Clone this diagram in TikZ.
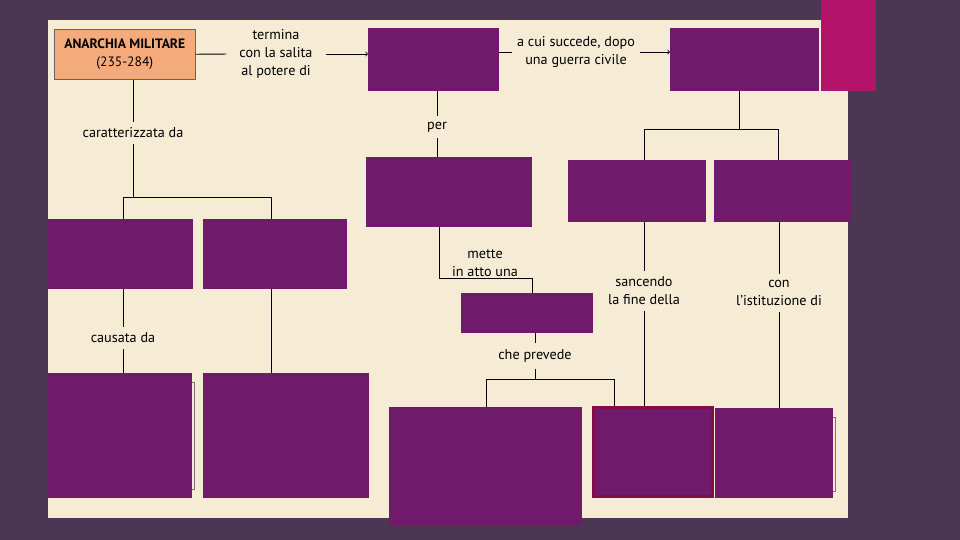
\documentclass[tikz,border=0pt]{standalone}
\usepackage{fontspec}
\setmainfont{PT Sans}
\usepackage{xcolor}
\usetikzlibrary{arrows,positioning}

\definecolor{bgdark}{HTML}{4B3653}
\definecolor{cream}{HTML}{F6EBD4}
\definecolor{plum}{HTML}{6F1A6B}
\definecolor{fuchsia}{HTML}{B3146A}
\definecolor{peach}{HTML}{F4AA7A}
\definecolor{wine}{HTML}{850C45}

\begin{document}
\begin{tikzpicture}[x=1pt,y=-1pt,
	box/.style={rectangle, fill=plum, anchor=north west, inner sep=0pt},
	link/.style={rectangle, align=center, inner xsep=2pt, inner ysep=6pt, font=\fontsize{14.2}{18}\selectfont},
	conn/.style={draw=black, line width=0.8pt}]
	\useasboundingbox (0,0) rectangle (960,540);
	\fill[bgdark] (0,0) rectangle (960,540);
	\fill[cream] (48,20) rectangle (848,518);
	
	% contorni sottili dietro i riquadri
	\draw[black!55, line width=0.6pt] (48,382) rectangle (194,489);
	\draw[black!55, line width=0.6pt] (715,417) rectangle (835,491);
	
	\node[box, fill=peach, draw=black!60, line width=0.6pt, minimum width=141pt, minimum height=50pt, align=center, font=\fontsize{13.6}{18}\selectfont] (anarchia) at (54,29) {\textbf{ANARCHIA MILITARE}\\(235-284)};
	\node[box, minimum width=131pt, minimum height=63pt] (potere) at (368,28) {};
	\node[box, minimum width=149pt, minimum height=63pt] (successore) at (670,28) {};
	\node[box, minimum width=166pt, minimum height=70pt] (scopo) at (366,157) {};
	\node[box, minimum width=138pt, minimum height=62pt] (fine) at (568,160) {};
	\node[box, minimum width=137pt, minimum height=62pt] (istituzione) at (714,160) {};
	\node[box, minimum width=145pt, minimum height=70pt] (tratto 1) at (48,219) {};
	\node[box, minimum width=144pt, minimum height=70pt] (tratto 2) at (203,219) {};
	\node[box, minimum width=132pt, minimum height=40pt] (riforma) at (461,293) {};
	\node[box, minimum width=144pt, minimum height=125pt] (causa 1) at (48,373) {};
	\node[box, minimum width=166pt, minimum height=125pt] (causa 2) at (203,373) {};
	\node[box, minimum width=193pt, minimum height=118pt] (prevede 1) at (389,407) {};
	\node[box, draw=wine, line width=2.5pt, minimum width=119pt, minimum height=89pt] (prevede 2) at (592,406) {};
	\node[box, minimum width=118pt, minimum height=90pt] (nuovo) at (715,408) {};
	
	\fill[fuchsia] (821,0) rectangle (876,91);
	
	\node[link, inner xsep=13pt] (termina) at (276,54) {termina\\con la salita\\al potere di};
	\node[link, inner xsep=5pt] (succede) at (576,52) {a cui succede, dopo\\una guerra civile};
	\node[link] (caratt) at (133,133) {caratterizzata da};
	\node[link] (per) at (437,127) {per};
	\node[link] (causata) at (123,338) {causata da};
	\node[link] (mette) at (485,263) {mette\\in atto una};
	\node[link] (che prevede) at (535,356) {che prevede};
	\node[link] (sancendo) at (644,291) {sancendo\\la fine della};
	\node[link] (con) at (779,293) {con\\l'istituzione di};
	
	\coordinate (fork a) at (133,197);
	\coordinate (fork a1) at (123,197);
	\coordinate (fork a2) at (271,197);
	\coordinate (fork b) at (739,129);
	\coordinate (fork b1) at (644,129);
	\coordinate (fork b2) at (778,129);
	\coordinate (mette a) at (439,278);
	\coordinate (mette b) at (532,278);
	\coordinate (fork c) at (535,379);
	\coordinate (fork c1) at (486,379);
	\coordinate (fork c2) at (614,379);
	
	\draw[conn] (anarchia) -- (termina);
	\draw[conn, ->] (termina) -- (termina -| potere.west);
	\draw[conn] (succede -| potere.east) -- (succede);
	\draw[conn, ->] (succede) -- (succede -| successore.west);
	
	\draw[conn] (caratt |- anarchia.south) -- (caratt) -- (fork a);
	\draw[conn] (fork a1 |- tratto 1.north) -- (fork a1) -- (fork a2) -- (fork a2 |- tratto 2.north);
	\draw[conn] (causata |- tratto 1.south) -- (causata) -- (causata |- causa 1.north);
	\draw[conn] (fork a2 |- tratto 2.south) -- (fork a2 |- causa 2.north);
	
	\draw[conn] (per |- potere.south) -- (per) -- (per |- scopo.north);
	\draw[conn] (mette a |- scopo.south) -- (mette a) -- (mette b) -- (mette b |- riforma.north);
	\draw[conn] (che prevede |- riforma.south) -- (che prevede) -- (fork c);
	\draw[conn] (fork c1 |- prevede 1.north) -- (fork c1) -- (fork c2) -- (fork c2 |- prevede 2.north);
	
	\draw[conn] (fork b |- successore.south) -- (fork b);
	\draw[conn] (fork b1 |- fine.north) -- (fork b1) -- (fork b2) -- (fork b2 |- istituzione.north);
	\draw[conn] (sancendo |- fine.south) -- (sancendo) -- (sancendo |- prevede 2.north);
	\draw[conn] (con |- istituzione.south) -- (con) -- (con |- nuovo.north);
\end{tikzpicture}
\end{document}
